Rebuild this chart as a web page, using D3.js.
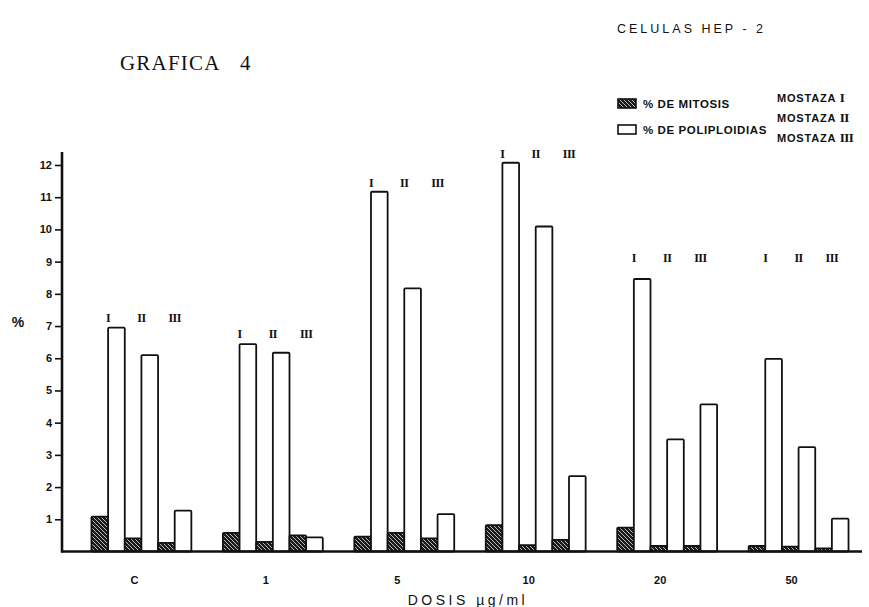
<!DOCTYPE html>
<html>
<head>
<meta charset="utf-8">
<script src="https://cdn.jsdelivr.net/npm/d3@7"></script>
<style>
  body { margin: 0; background: #fff; }
  svg { display: block; }
</style>
</head>
<body>
<svg width="869" height="607"></svg>
<script>
// dosis (x categories) and mostaza types
var doses = ["C", "1", "5", "10", "20", "50"];
var mustards = ["I", "II", "III"];

// % de mitosis per mostaza
var mitosisI = [1.08, 0.58, 0.46, 0.82, 0.74, 0.17];
var mitosisII = [0.41, 0.30, 0.58, 0.20, 0.17, 0.15];
var mitosisIII = [0.27, 0.50, 0.41, 0.36, 0.17, 0.10];

// % de poliploidias per mostaza
var poliI = [6.95, 6.44, 11.17, 12.07, 8.46, 5.98];
var poliII = [6.10, 6.17, 8.17, 10.09, 3.48, 3.24];
var poliIII = [1.27, 0.44, 1.16, 2.34, 4.57, 1.02];

// level (in %) where the I II III marks sit over each group
var markLevels = [7.25, 6.75, 11.45, 12.35, 9.1, 9.1];

var yTicks = [1, 2, 3, 4, 5, 6, 7, 8, 9, 10, 11, 12];

var mitosis = { I: mitosisI, II: mitosisII, III: mitosisIII };
var poli = { I: poliI, II: poliII, III: poliIII };

var svg = d3.select("svg");
var ink = "#111";
var boldSans = "'Liberation Sans', Arial, sans-serif";
var serif = "'Liberation Serif', 'Times New Roman', serif";

// hatch pattern for mitosis bars
var defs = svg.append("defs");
var pat = defs.append("pattern")
    .attr("id", "hatch")
    .attr("patternUnits", "userSpaceOnUse")
    .attr("width", 4)
    .attr("height", 4);
pat.append("rect").attr("width", 4).attr("height", 4).attr("fill", "#1b1b1b");
pat.append("path")
    .attr("d", "M-1,-1 L5,5 M-1,3 L1,5 M3,-1 L5,1")
    .attr("stroke", "#fff")
    .attr("stroke-width", 0.7);

var y = d3.scaleLinear().domain([0, 12]).range([551.5, 165]);

var x = d3.scaleBand()
    .domain(doses)
    .range([62, 869])
    .paddingInner(0.24)
    .paddingOuter(0.19)
    .align(0.59);

var keys = [];
mustards.forEach(function (m) { keys.push("m" + m); keys.push("p" + m); });
var xSub = d3.scaleBand().domain(keys).range([0, x.bandwidth()]);

// bars
var barData = [];
doses.forEach(function (d, i) {
    mustards.forEach(function (m) {
        barData.push({ dose: d, key: "m" + m, value: mitosis[m][i], type: "m" });
        barData.push({ dose: d, key: "p" + m, value: poli[m][i], type: "p" });
    });
});

svg.selectAll("rect.bar")
    .data(barData)
    .enter().append("rect")
    .attr("class", "bar")
    .attr("x", function (d) { return x(d.dose) + xSub(d.key); })
    .attr("y", function (d) { return y(d.value); })
    .attr("width", xSub.bandwidth())
    .attr("height", function (d) { return y(0) - y(d.value); })
    .attr("rx", 1)
    .attr("fill", function (d) { return d.type === "m" ? "url(#hatch)" : "#fff"; })
    .attr("stroke", ink)
    .attr("stroke-width", 1.8);

// roman numerals above each group
doses.forEach(function (d, i) {
    mustards.forEach(function (m) {
        svg.append("text")
            .attr("x", x(d) + xSub("p" + m))
            .attr("y", y(markLevels[i]) + 4)
            .attr("text-anchor", "middle")
            .attr("font-family", serif)
            .attr("font-weight", "bold")
            .attr("font-size", 12)
            .attr("letter-spacing", -0.5)
            .attr("fill", ink)
            .text(m);
    });
});

// y axis
var yAxis = svg.append("g")
    .attr("transform", "translate(62,0)")
    .call(d3.axisLeft(y).tickValues(yTicks).tickSize(7).tickPadding(3).tickFormat(d3.format("d")));
yAxis.select(".domain").remove();
yAxis.selectAll(".tick line").attr("stroke", ink).attr("stroke-width", 1.6);
yAxis.selectAll(".tick text")
    .attr("font-family", boldSans)
    .attr("font-weight", "bold")
    .attr("font-size", 11)
    .attr("fill", ink);

svg.append("line")
    .attr("x1", 62).attr("x2", 62)
    .attr("y1", 152).attr("y2", y(0) + 1)
    .attr("stroke", ink).attr("stroke-width", 2.6);
svg.append("line")
    .attr("x1", 61).attr("x2", 862)
    .attr("y1", y(0)).attr("y2", y(0))
    .attr("stroke", ink).attr("stroke-width", 2.6);

// x axis labels
var xAxis = svg.append("g")
    .attr("transform", "translate(-7," + (y(0) + 25) + ")")
    .call(d3.axisBottom(x).tickSize(0).tickPadding(0));
xAxis.select(".domain").remove();
xAxis.selectAll(".tick text")
    .attr("font-family", boldSans)
    .attr("font-weight", "bold")
    .attr("font-size", 11)
    .attr("fill", ink);

svg.append("text")
    .attr("x", 18).attr("y", 327)
    .attr("text-anchor", "middle")
    .attr("font-family", boldSans)
    .attr("font-weight", "bold")
    .attr("font-size", 14)
    .attr("fill", ink)
    .text("%");

svg.append("text")
    .attr("x", 468).attr("y", 605)
    .attr("text-anchor", "middle")
    .attr("font-family", boldSans)
    .attr("font-size", 14)
    .attr("letter-spacing", 3.5)
    .attr("fill", ink)
    .text("DOSIS \u00b5g/ml");

// titles
svg.append("text")
    .attr("x", 120).attr("y", 70)
    .attr("font-family", serif)
    .attr("font-size", 21)
    .attr("letter-spacing", 1.2)
    .attr("fill", ink)
    .text("GRAFICA");
svg.append("text")
    .attr("x", 240).attr("y", 70)
    .attr("font-family", serif)
    .attr("font-size", 21)
    .attr("fill", ink)
    .text("4");

svg.append("text")
    .attr("x", 617).attr("y", 33)
    .attr("font-family", boldSans)
    .attr("font-size", 12.5)
    .attr("letter-spacing", 3)
    .attr("fill", ink)
    .text("CELULAS HEP - 2");

// legend
var legend = [
    { label: "% DE MITOSIS", fill: "url(#hatch)", y: 99 },
    { label: "% DE POLIPLOIDIAS", fill: "#fff", y: 125 }
];
legend.forEach(function (l) {
    svg.append("rect")
        .attr("x", 618).attr("y", l.y)
        .attr("width", 18).attr("height", 9)
        .attr("fill", l.fill)
        .attr("stroke", ink).attr("stroke-width", 1.6);
    svg.append("text")
        .attr("x", 643).attr("y", l.y + 9)
        .attr("font-family", boldSans)
        .attr("font-weight", "bold")
        .attr("font-size", 11.5)
        .attr("letter-spacing", 0.6)
        .attr("fill", ink)
        .text(l.label);
});

mustards.forEach(function (m, i) {
    var t = svg.append("text")
        .attr("x", 777).attr("y", 102 + i * 20)
        .attr("font-family", boldSans)
        .attr("font-weight", "bold")
        .attr("font-size", 11)
        .attr("letter-spacing", 0.8)
        .attr("fill", ink);
    t.append("tspan").text("MOSTAZA ");
    t.append("tspan")
        .attr("font-family", serif)
        .attr("font-size", 13)
        .attr("letter-spacing", -0.5)
        .text(m);
});
</script>
</body>
</html>
